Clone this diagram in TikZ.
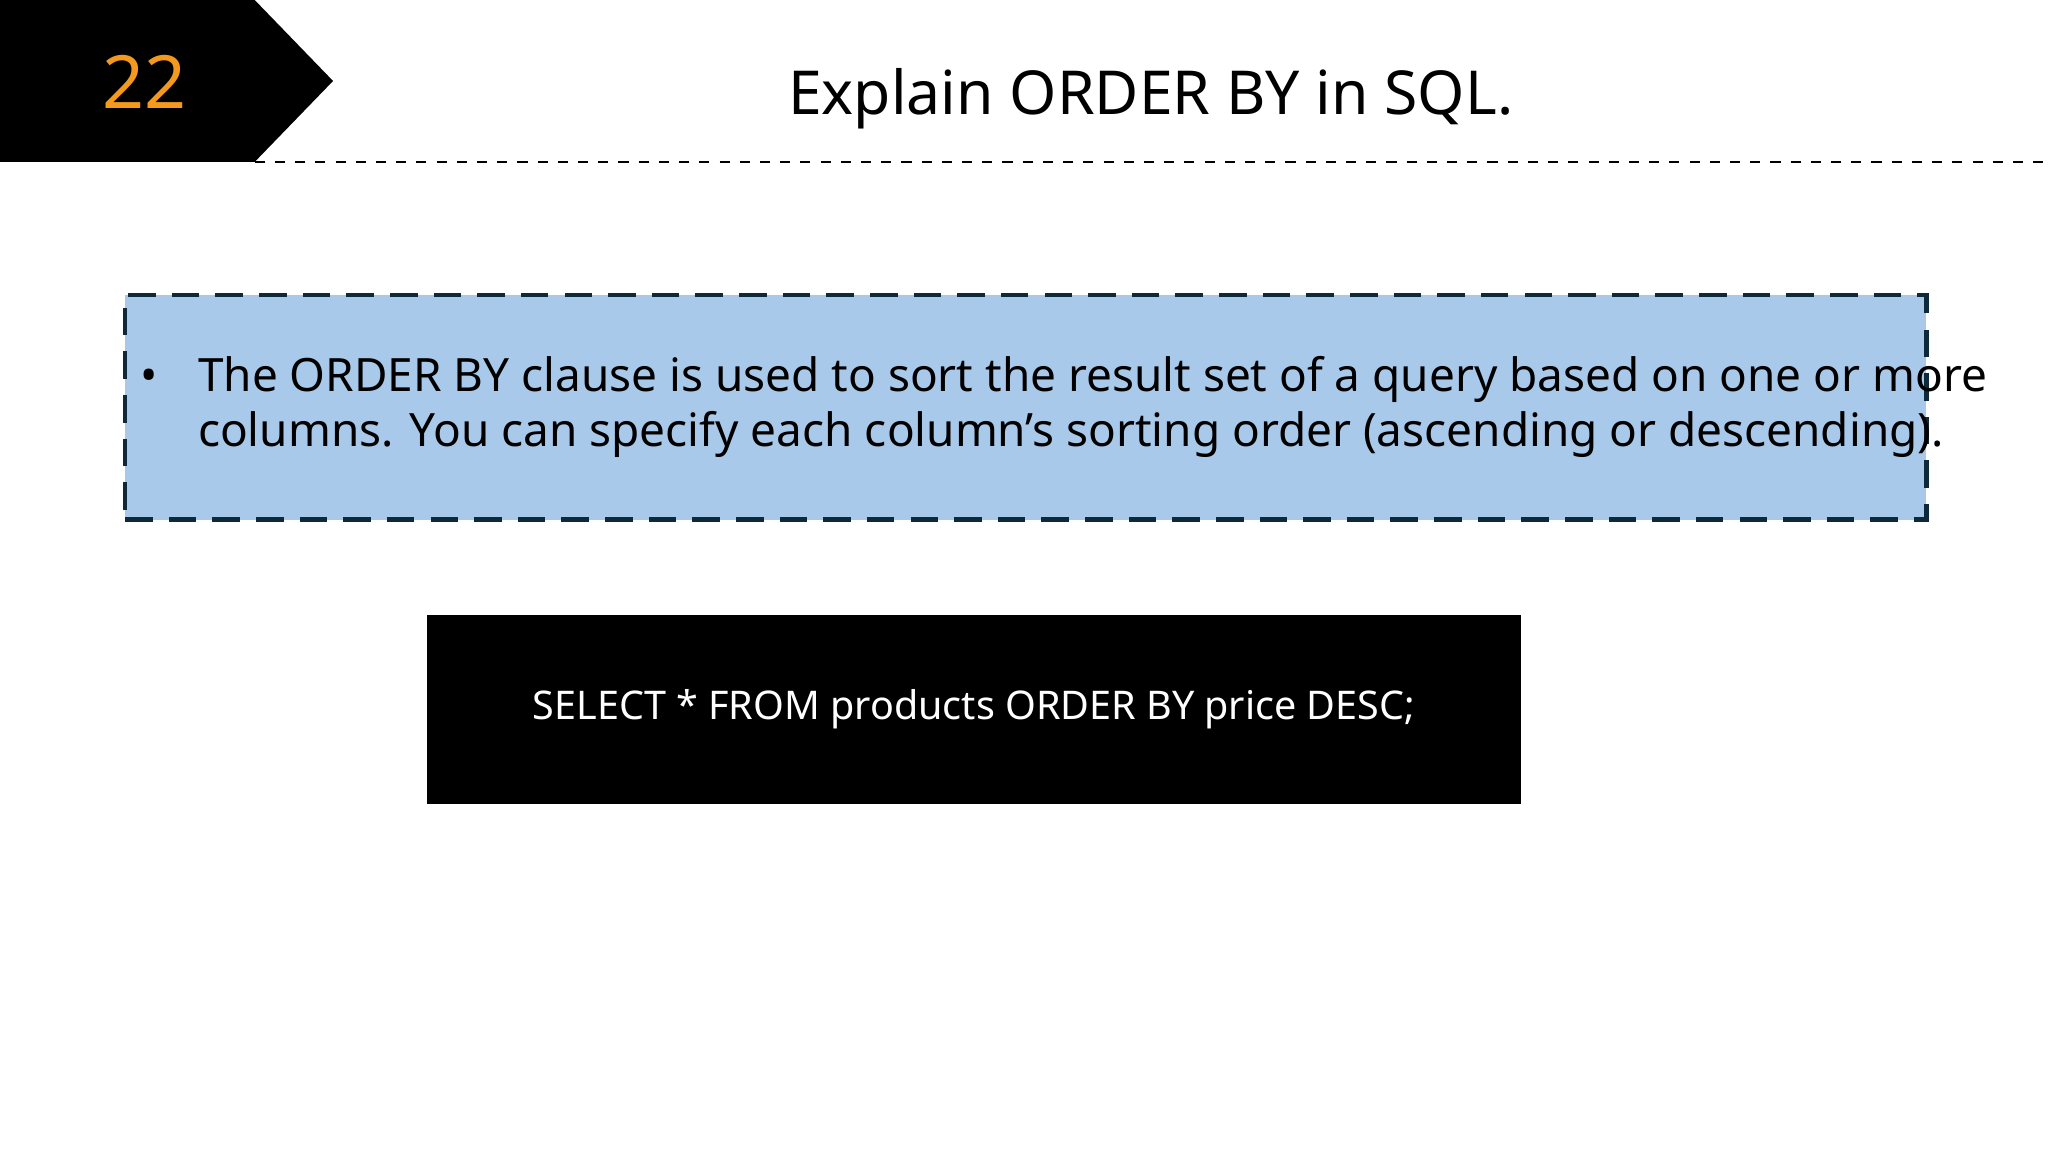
\documentclass[tikz,border=0pt]{standalone}
\usepackage{fontspec}
\setmainfont{Noto Sans}
\definecolor{numorange}{HTML}{F39A1E}
\definecolor{boxblue}{HTML}{A9C9EA}
\definecolor{boxedge}{HTML}{0E2A3A}
\begin{document}
\begin{tikzpicture}[x=0.01cm,y=-0.01cm,
  txt/.style={inner sep=0,anchor=base west}]
\useasboundingbox (0,0) rectangle (1568,882);
\fill[white] (0,0) rectangle (1568,882);
\fill[black] (0,0) -- (195,0) -- (255,62) -- (195,124) -- (0,124) -- cycle;
\node[inner sep=0,anchor=base] (num) at (111,83) {\fontsize{16}{18}\selectfont\color{numorange}22};
\node[inner sep=0,anchor=base] (title) at (881,88) {\fontsize{13.2}{16}\selectfont Explain ORDER BY in SQL.};
\coordinate (l1) at (195,124);
\coordinate (l2) at (1568,124);
\draw[black,line width=0.6pt,dash pattern=on 2.2pt off 2.2pt] (l1) -- (l2);
\node[draw=boxedge,fill=boxblue,line width=1pt,dash pattern=on 6pt off 3.5pt,minimum width=1379*0.01cm,minimum height=172*0.01cm,anchor=north west,inner sep=0] (box) at (94,224) {};
\node[txt] (bul) at (107,300) {\fontsize{10}{11}\selectfont •};
\node[txt,align=left,anchor=north west] (body) at (151,272) {\fontsize{10}{11.1}\selectfont The ORDER BY clause is used to sort the result set of a query based on one or more\\columns. You can specify each column's sorting order (ascending or descending).};
\node[fill=black,minimum width=838*0.01cm,minimum height=145*0.01cm,anchor=north west,inner sep=0] (code) at (326,470) {};
\node[inner sep=0,text=white] (codet) at (code.center) {\fontsize{8.6}{10}\selectfont SELECT * FROM products ORDER BY price DESC;};
\end{tikzpicture}
\end{document}
